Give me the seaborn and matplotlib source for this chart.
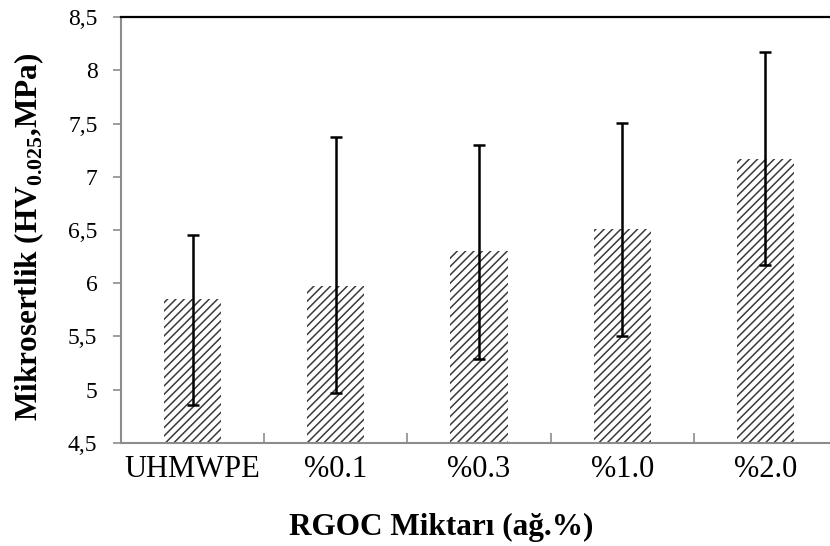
import numpy as np
import pandas as pd
import seaborn as sns
import matplotlib
matplotlib.use("Agg")
import matplotlib.pyplot as plt
from matplotlib.ticker import FuncFormatter

categories = ["UHMWPE", "%0.1", "%0.3", "%1.0", "%2.0"]
hardness = [5.85, 5.97, 6.30, 6.51, 7.17]
err_low = [1.00, 1.00, 1.01, 1.01, 1.00]
err_high = [0.60, 1.40, 1.00, 1.00, 1.00]
y_ticks = [4.5, 5.0, 5.5, 6.0, 6.5, 7.0, 7.5, 8.0, 8.5]
x_label = "RGOC Miktarı (ağ.%)"
y_label = "Mikrosertlik (HV$_{\\mathbf{0.025}}$,MPa)"

sns.set_theme(style="white")
plt.rcParams["font.family"] = ["Liberation Serif", "DejaVu Serif"]
plt.rcParams["mathtext.fontset"] = "custom"
plt.rcParams["mathtext.rm"] = "Liberation Serif"
plt.rcParams["mathtext.bf"] = "Liberation Serif:bold"
plt.rcParams["hatch.linewidth"] = 1.1

fig = plt.figure(figsize=(8.3, 5.46), dpi=100)
ax = fig.add_axes([0.1458, 0.1892, 0.8627, 0.7791])

df = pd.DataFrame({"cat": categories, "val": hardness})
sns.barplot(data=df, x="cat", y="val", color="white", width=0.4,
            errorbar=None, ax=ax, edgecolor="#3a3a3a", linewidth=0,
            hatch="////")

xs = [p.get_x() + p.get_width() / 2 for p in ax.patches]
ax.errorbar(xs, hardness, yerr=[err_low, err_high], fmt="none",
            ecolor="black", elinewidth=1.8, capsize=4, capthick=1.8,
            zorder=5)

ax.set_xlim(-0.5, 4.5)
ax.set_ylim(4.5, 8.5)
ax.set_yticks(y_ticks)
ax.yaxis.set_major_formatter(FuncFormatter(lambda v, p: f"{v:g}".replace(".", ",")))

ax.set_xticks(np.arange(len(categories)) + 0.5, minor=True)
ax.tick_params(axis="x", which="major", length=0, labelsize=22, pad=9,
               labelcolor="black")
ax.tick_params(axis="x", which="minor", direction="in", length=7,
               width=1.2, color="#8c8c8c", bottom=True)
ax.tick_params(axis="y", which="major", direction="out", length=6,
               width=1.2, color="#8c8c8c", labelsize=17, pad=11,
               labelcolor="black", left=True)

ax.spines["right"].set_visible(False)
ax.spines["top"].set_color("black")
ax.spines["top"].set_linewidth(1.6)
for s in ["left", "bottom"]:
    ax.spines[s].set_color("#8c8c8c")
    ax.spines[s].set_linewidth(1.5)

ax.set_xlabel(x_label, fontsize=22.5, fontweight="bold", color="black")
ax.set_ylabel(y_label, fontsize=22.5, fontweight="bold", color="black", va="center")
ax.xaxis.set_label_coords(0.4476, -0.165)
ax.yaxis.set_label_coords(-0.128, 0.484)

fig.savefig("out.png", dpi=100)
